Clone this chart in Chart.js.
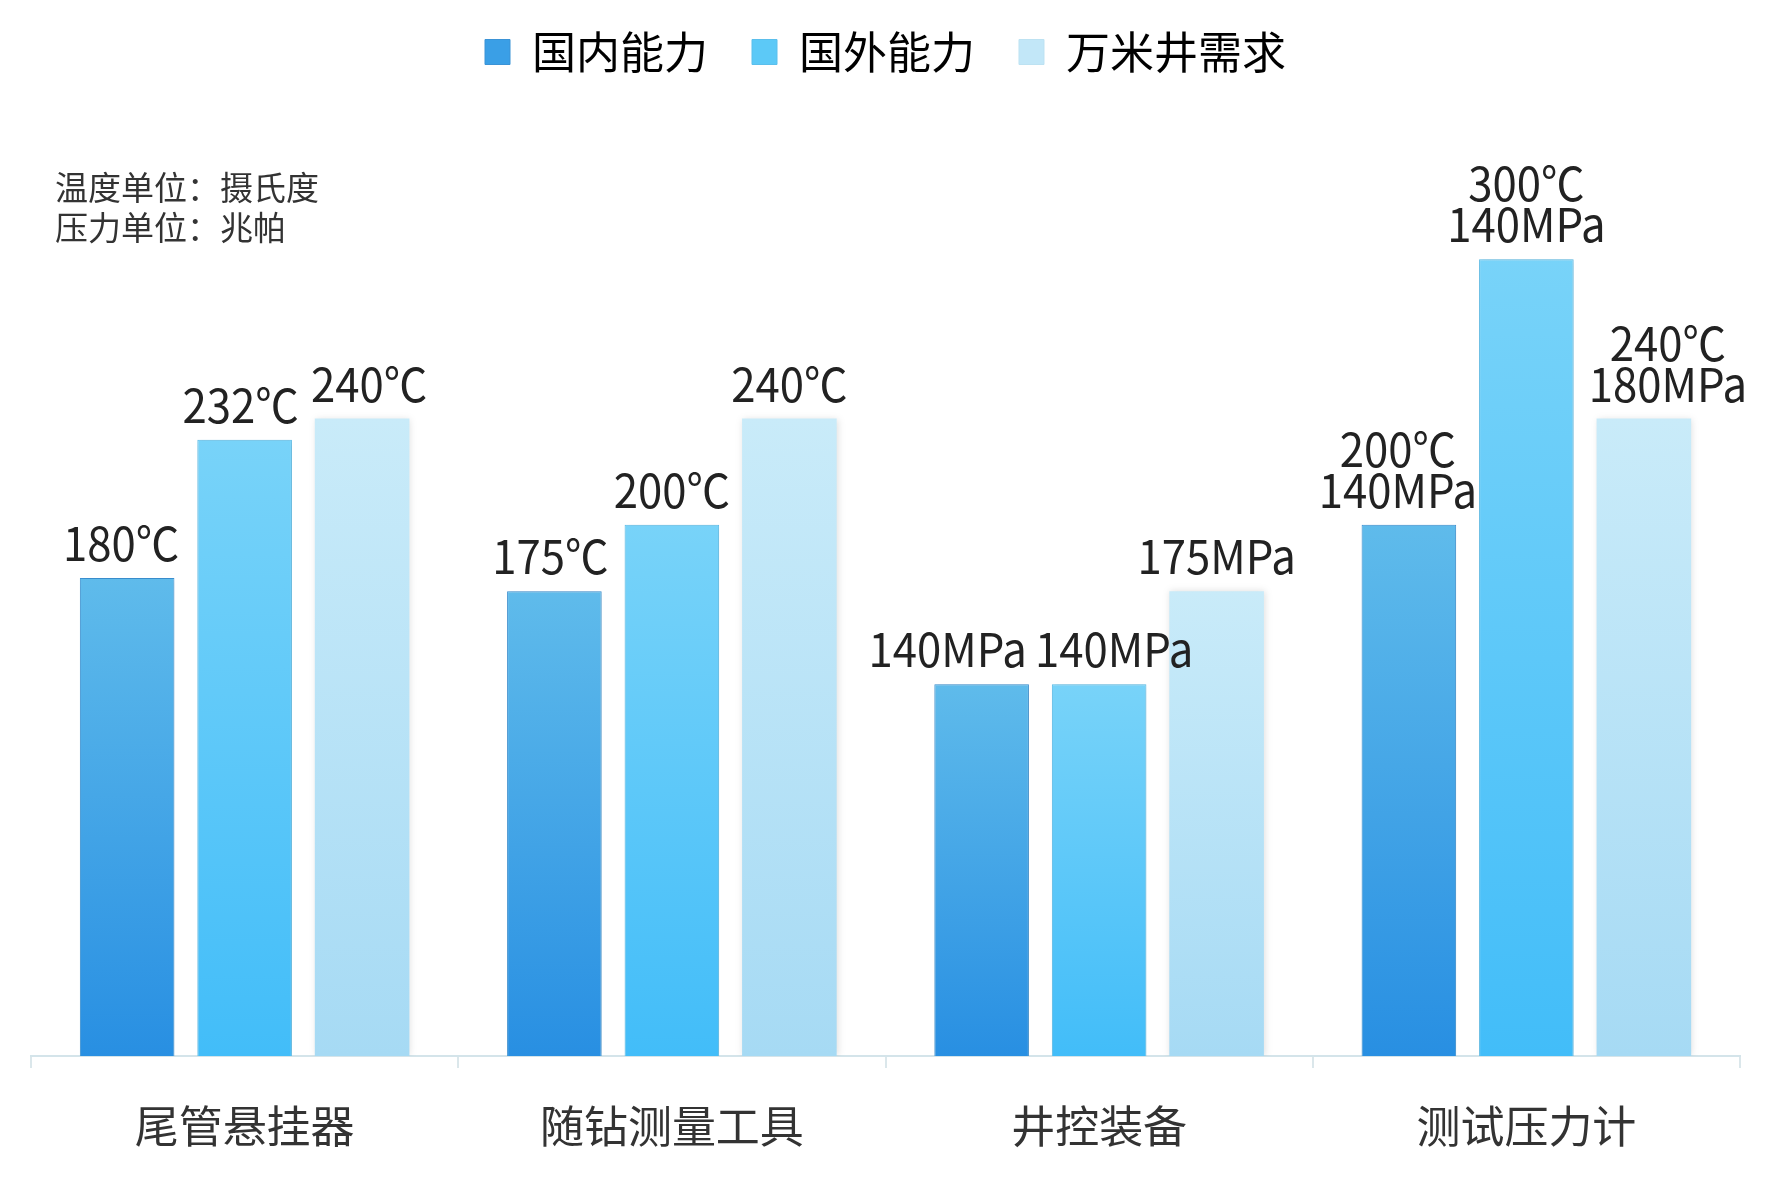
<!DOCTYPE html>
<html>
<head>
<meta charset="utf-8">
<script src="https://cdn.jsdelivr.net/npm/chart.js@4.4.0/dist/chart.umd.min.js"></script>
<style>
  html, body { margin: 0; padding: 0; background: #fff; }
  #wrap { width: 1772px; height: 1180px; }
</style>
</head>
<body>
<div id="wrap"><canvas id="barChart"></canvas></div>
<script>
const categories = ['尾管悬挂器', '随钻测量工具', '井控装备', '测试压力计'];
const seriesNames = ['国内能力', '国外能力', '万米井需求'];
const domesticValues = [180, 175, 140, 200];
const foreignValues = [232, 200, 140, 300];
const demandValues = [240, 240, 175, 240];
const domesticLabels = ['180℃', '175℃', '140MPa', '200℃\n140MPa'];
const foreignLabels = ['232℃', '200℃', '140MPa', '300℃\n140MPa'];
const demandLabels = ['240℃', '240℃', '175MPa', '240℃\n180MPa'];
const unitNotes = ['温度单位：摄氏度', '压力单位：兆帕'];

const FONT = '"Noto Sans CJK SC", "Noto Sans", sans-serif';

// top / bottom colours of each bar gradient
const gradStops = [
    ['#5fbbeb', '#288fe2'],
    ['#78d3f9', '#42bdf9'],
    ['#c9ebf9', '#a6daf4']
];
const legendColors = ['#3a9fe6', '#5cc9f7', '#c2e7f8'];
const borderColors = ['#3b93d6', '#5bbfec', '#bde2f2'];

// small sideways nudges so neighbouring labels don't collide (px, per series / category)
const labelNudge = [
    [-6, -4, -34, -11],
    [-4, 0, 15, 0],
    [7, 0, 0, 24]
];

function barGradient(idx) {
    return function (context) {
        const chart = context.chart;
        if (!chart.chartArea || context.raw === undefined) return gradStops[idx][1];
        const yScale = chart.scales.y;
        const top = yScale.getPixelForValue(context.raw);
        const bottom = yScale.getPixelForValue(0);
        const g = chart.ctx.createLinearGradient(0, top, 0, bottom);
        g.addColorStop(0, gradStops[idx][0]);
        g.addColorStop(1, gradStops[idx][1]);
        return g;
    };
}

const allLabels = [domesticLabels, foreignLabels, demandLabels];

const barShadow = {
    id: 'barShadow',
    beforeDatasetsDraw(chart) {
        const ctx = chart.ctx;
        ctx.save();
        ctx.shadowColor = 'rgba(0, 0, 0, 0.13)';
        ctx.shadowBlur = 7;
        ctx.shadowOffsetX = 1;
        ctx.shadowOffsetY = 0;
    },
    afterDatasetsDraw(chart) {
        chart.ctx.restore();
    }
};

const valueLabels = {
    id: 'valueLabels',
    afterDatasetsDraw(chart) {
        const ctx = chart.ctx;
        ctx.save();
        ctx.font = '47px ' + FONT;
        ctx.fillStyle = '#222';
        ctx.textAlign = 'center';
        ctx.textBaseline = 'alphabetic';
        chart.data.datasets.forEach((ds, di) => {
            const meta = chart.getDatasetMeta(di);
            meta.data.forEach((bar, i) => {
                const lines = allLabels[di][i].split('\n');
                const x = bar.x + labelNudge[di][i];
                let y = bar.y - 17;
                for (let k = lines.length - 1; k >= 0; k--) {
                    // slightly condensed, like the original typeface
                    ctx.save();
                    ctx.translate(x, y);
                    ctx.scale(0.93, 1);
                    ctx.fillText(lines[k], 0, 0);
                    ctx.restore();
                    y -= 41;
                }
            });
        });
        ctx.restore();
    }
};

const notes = {
    id: 'notes',
    afterDraw(chart) {
        const ctx = chart.ctx;
        ctx.save();
        ctx.font = '33px ' + FONT;
        ctx.fillStyle = '#333';
        ctx.textAlign = 'left';
        ctx.textBaseline = 'middle';
        unitNotes.forEach((t, i) => ctx.fillText(t, 55, 187 + i * 40));
        ctx.restore();
    }
};

const ctx = document.getElementById('barChart').getContext('2d');
new Chart(ctx, {
    type: 'bar',
    data: {
        labels: categories,
        datasets: [
            { label: seriesNames[0], data: domesticValues, backgroundColor: barGradient(0), borderColor: borderColors[0], borderWidth: 1 },
            { label: seriesNames[1], data: foreignValues, backgroundColor: barGradient(1), borderColor: borderColors[1], borderWidth: 1 },
            { label: seriesNames[2], data: demandValues, backgroundColor: barGradient(2), borderColor: borderColors[2], borderWidth: 0 }
        ]
    },
    options: {
        responsive: true,
        maintainAspectRatio: false,
        devicePixelRatio: 1,
        animation: false,
        categoryPercentage: 0.825,
        barPercentage: 0.805,
        layout: { padding: { left: 31, right: 32, top: -14, bottom: -4 } },
        plugins: {
            legend: {
                display: true,
                position: 'top',
                labels: {
                    font: { family: FONT, size: 44 },
                    color: '#222',
                    boxWidth: 25,
                    boxHeight: 25,
                    padding: 44,
                    generateLabels(chart) {
                        return chart.data.datasets.map((ds, i) => ({
                            text: ds.label,
                            fillStyle: legendColors[i],
                            strokeStyle: borderColors[i],
                            lineWidth: 1,
                            hidden: false,
                            datasetIndex: i
                        }));
                    }
                }
            },
            tooltip: { enabled: false }
        },
        scales: {
            x: {
                grid: {
                    display: true,
                    drawOnChartArea: false,
                    drawTicks: true,
                    tickLength: 12,
                    color: '#dbe7eb',
                    lineWidth: 2
                },
                border: { display: true, color: '#d4e4ea', width: 2 },
                ticks: {
                    font: { family: FONT, size: 44, lineHeight: 1.0 },
                    color: '#333',
                    padding: 36
                }
            },
            y: {
                display: false,
                min: 0,
                max: 366
            }
        }
    },
    plugins: [barShadow, valueLabels, notes]
});
</script>
</body>
</html>
